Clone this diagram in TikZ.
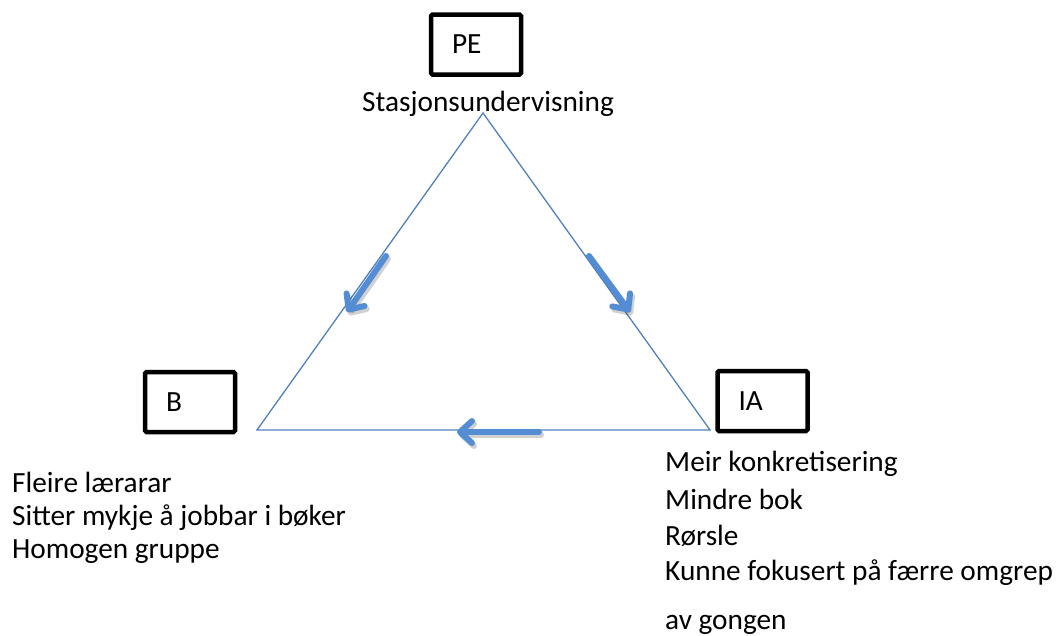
\documentclass[tikz,border=0pt]{standalone}
\usepackage{fontspec}
\setmainfont{Carlito}
\usetikzlibrary{arrows.meta}
\definecolor{tri}{RGB}{79,129,189}
\definecolor{arr}{RGB}{84,141,212}
\begin{document}
\begin{tikzpicture}[x=1pt,y=-1pt,
  box/.style={draw=black, line width=4.5pt, rounded corners=1.5pt, text width=48pt, align=left,
    inner xsep=21pt, inner ysep=0pt, minimum height=60pt, font=\fontsize{29.3}{34}\selectfont},
  lbl/.style={anchor=base west, inner sep=0pt, font=\fontsize{29.3}{34}\selectfont},
  side/.style={draw=tri, line width=1.3pt},
  flowshadow/.style={draw=black, opacity=0.18, line width=6pt, line cap=round, line join=round,
    -{Straight Barb[length=12pt,width=22pt,line cap=round,line join=round]}},
  flow/.style={draw=arr, line width=6pt, line cap=round, line join=round,
    -{Straight Barb[length=12pt,width=22pt,line cap=round,line join=round]}}]
\useasboundingbox (0,0) rectangle (1058,635);

% boxes
\node[box] (PE) at (476,44.5) {PE};
\node[box] (B) at (190,402) {B};
\node[box] (IA) at (762.5,401) {IA};

% triangle
\coordinate (top) at (483,113);
\coordinate (bl) at (257,430);
\coordinate (br) at (710,430);
\draw[side] (top) -- (bl) -- (br) -- cycle;

% arrows
\coordinate (l1) at (386,256);
\coordinate (l2) at (347,312);
\coordinate (r1) at (589,256);
\coordinate (r2) at (630,312);
\coordinate (b1) at (539,432);
\coordinate (b2) at (457,432);
\draw[flowshadow, transform canvas={xshift=2pt,yshift=-3pt}] (l1) -- (l2);
\draw[flowshadow, transform canvas={xshift=2pt,yshift=-3pt}] (r1) -- (r2);
\draw[flowshadow, transform canvas={xshift=2pt,yshift=-3pt}] (b1) -- (b2);
\draw[flow] (l1) -- (l2);
\draw[flow] (r1) -- (r2);
\draw[flow] (b1) -- (b2);

% texts
\node[lbl] (tpe) at (362,111) {Stasjonsundervisning};
\node[lbl] (tb1) at (12,492) {Fleire lærarar};
\node[lbl] (tb2) at (12,525) {Sitter mykje å jobbar i bøker};
\node[lbl] (tb3) at (12,558) {Homogen gruppe};
\node[lbl] (ti1) at (665,471) {Meir konkretisering};
\node[lbl] (ti2) at (665,509) {Mindre bok};
\node[lbl] (ti3) at (665,545) {Rørsle};
\node[lbl] (ti4) at (665,580) {Kunne fokusert på færre omgrep};
\node[lbl] (ti5) at (665,629) {av gongen};
\end{tikzpicture}
\end{document}
